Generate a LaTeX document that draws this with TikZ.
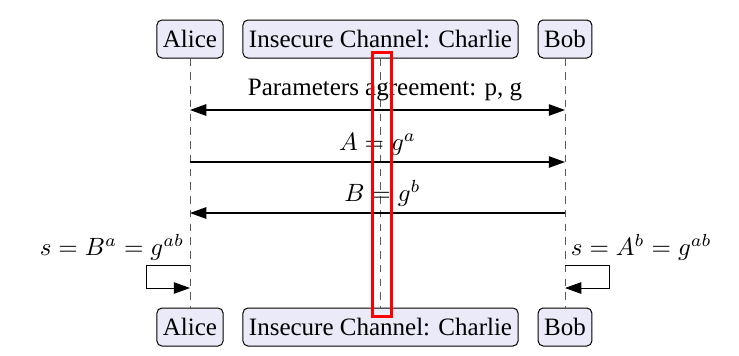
\documentclass[tikz,border=0pt]{standalone}
\usepackage{fontspec}
\setmainfont{Liberation Serif}
\usetikzlibrary{arrows.meta}
\definecolor{actorfill}{RGB}{234,234,248}
\tikzset{
  actor/.style={draw, rounded corners=2pt, fill=actorfill, minimum height=15.2pt, inner xsep=2.4pt},
  lifeline/.style={dashed, dash pattern=on 3pt off 2.5pt, gray!70!black, line width=0.3pt},
  msg/.style={-{Triangle[length=6.5pt,width=4.6pt]}, line width=0.5pt},
  bimsg/.style={{Triangle[length=6.5pt,width=4.6pt]}-{Triangle[length=6.5pt,width=4.6pt]}, line width=0.5pt},
  loopmsg/.style={-{Triangle[length=6.5pt,width=4.6pt]}, line width=0.4pt}
}
\begin{document}
\begin{tikzpicture}[x=0.4pt, y=-0.4pt]
\useasboundingbox (0,0) rectangle (739,355);
% actors, top and bottom
\node[actor] (alice) at (190,39) {Alice};
\node[actor] (charlie) at (380.5,39) {Insecure Channel: Charlie};
\node[actor] (bob) at (565,39) {Bob};
\node[actor] (alicebot) at (190,327) {Alice};
\node[actor] (charliebot) at (380.5,327) {Insecure Channel: Charlie};
\node[actor] (bobbot) at (565,327) {Bob};
% lifelines
\draw[lifeline] (alice) -- (alicebot);
\draw[lifeline] (charlie.south -| 380,0) -- (charliebot.north -| 380,0);
\draw[lifeline] (bob) -- (bobbot);
% messages
\coordinate (a1) at (190,110);
\coordinate (b1) at (565,110);
\coordinate (a2) at (190,162);
\coordinate (b2) at (565,162);
\coordinate (a3) at (190,213);
\coordinate (b3) at (565,213);
\draw[bimsg] (a1) -- (b1)
  node[midway, above=0pt, xshift=3pt] (params) {Parameters agreement: p, g};
\draw[msg] (a2) -- (b2) node[midway, above=-1pt] (msgA) {$A = g^a$};
\draw[msg] (b3) -- (a3) node[midway, above=-1pt, xshift=2pt] (msgB) {$B = g^b$};
% self messages
\node[anchor=east] (keyA) at (193,247) {$s = B^a = g^{ab}$};
\node[anchor=west] (keyB) at (562,247) {$s = A^b = g^{ab}$};
\coordinate (a4) at (190,265);
\coordinate (a5) at (190,288);
\coordinate (b4) at (565,265);
\coordinate (b5) at (565,288);
\draw[loopmsg] (a4) -- ++(-44,0) |- (a5);
\draw[loopmsg] (b4) -- ++(44,0) |- (b5);
% highlight
\draw[red, line width=1.2pt] (372,52) rectangle (391,316);
\end{tikzpicture}
\end{document}
